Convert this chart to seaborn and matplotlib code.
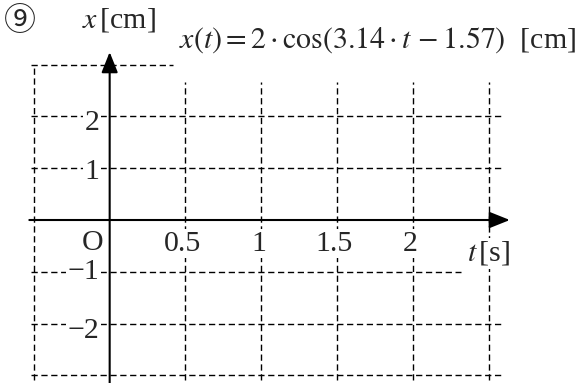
import matplotlib
matplotlib.use("Agg")
import matplotlib.pyplot as plt
import seaborn as sns

# values
t_ticks = [0.5, 1, 1.5, 2]
t_labels = ["0.5", "1", "1.5", "2"]
x_ticks = [2, 1, -1, -2]
x_labels = ["2", "1", "\u22121", "\u22122"]
grid_t = [-0.5, 0.5, 1, 1.5, 2, 2.5]
grid_x = [3, 2, 1, -1, -2, -3]
formula = r"$x(t) = 2\cdot\cos(3.14\cdot t\, - 1.57)$  [cm]"

sns.set_style("white")
plt.rcParams['font.family'] = ['Liberation Serif', 'Noto Sans CJK JP', 'DejaVu Sans']
plt.rcParams['mathtext.fontset'] = 'stix'

fig = plt.figure(figsize=(5.88, 3.83), dpi=100)
ax = fig.add_axes([0, 0, 1, 1])
ax.set_xlim(-0.7235, 3.1556)
ax.set_ylim(-3.145, 4.245)
ax.axis("off")

dash = (0, (4.5, 2.6))
# horizontal grid lines
for xv in grid_x:
    right = 2.58
    if xv == 3:
        right = 0.42
    elif xv == -1:
        right = 2.32
    ax.hlines(xv, -0.52, right, colors="black", linewidth=1.0, linestyles=dash)
# vertical grid lines
for tv in grid_t:
    top = 3.0 if tv == -0.5 else 2.66
    ax.vlines(tv, -3.08, top, colors="black", linewidth=1.0, linestyles=dash)

# axes with arrows
arrow = dict(arrowstyle="-|>,head_length=1.25,head_width=0.5", lw=1.5,
             color="black", shrinkA=0, shrinkB=0)
ax.annotate("", xy=(2.64, 0), xytext=(-0.53, 0), arrowprops=arrow)
ax.annotate("", xy=(0, 3.24), xytext=(0, -3.2), arrowprops=arrow)

fs = 21.5
box = dict(boxstyle="square,pad=0.05", fc="white", ec="none")
for tv, lab in zip(t_ticks, t_labels):
    ax.annotate(lab, (tv, 0), xytext=(-2, -17), textcoords="offset points",
                ha="center", va="center", fontsize=fs, bbox=box)
ax.annotate("O", (0, 0), xytext=(-12, -16.5), textcoords="offset points",
            ha="center", va="center", fontsize=fs)
y_off = {2: -4.5, 1: -2.5, -1: 0, -2: -5.5}
for xv, lab in zip(x_ticks, x_labels):
    ax.annotate(lab, (0, xv), xytext=(-7.5, y_off[xv]), textcoords="offset points",
                ha="right", va="center", fontsize=fs, bbox=box)

ax.text(-0.59, 3.82, "\u2468", ha="center", va="center", fontsize=23)
ax.text(-0.18, 3.86, r"$x\,$[cm]", ha="left", va="center", fontsize=fs)
ax.text(0.455, 3.47, formula, ha="left", va="center", fontsize=21.5, bbox=box)
ax.text(2.36, -0.64, r"$t\,$[s]", ha="left", va="center", fontsize=fs, bbox=box)

fig.savefig("out.png", dpi=100)
